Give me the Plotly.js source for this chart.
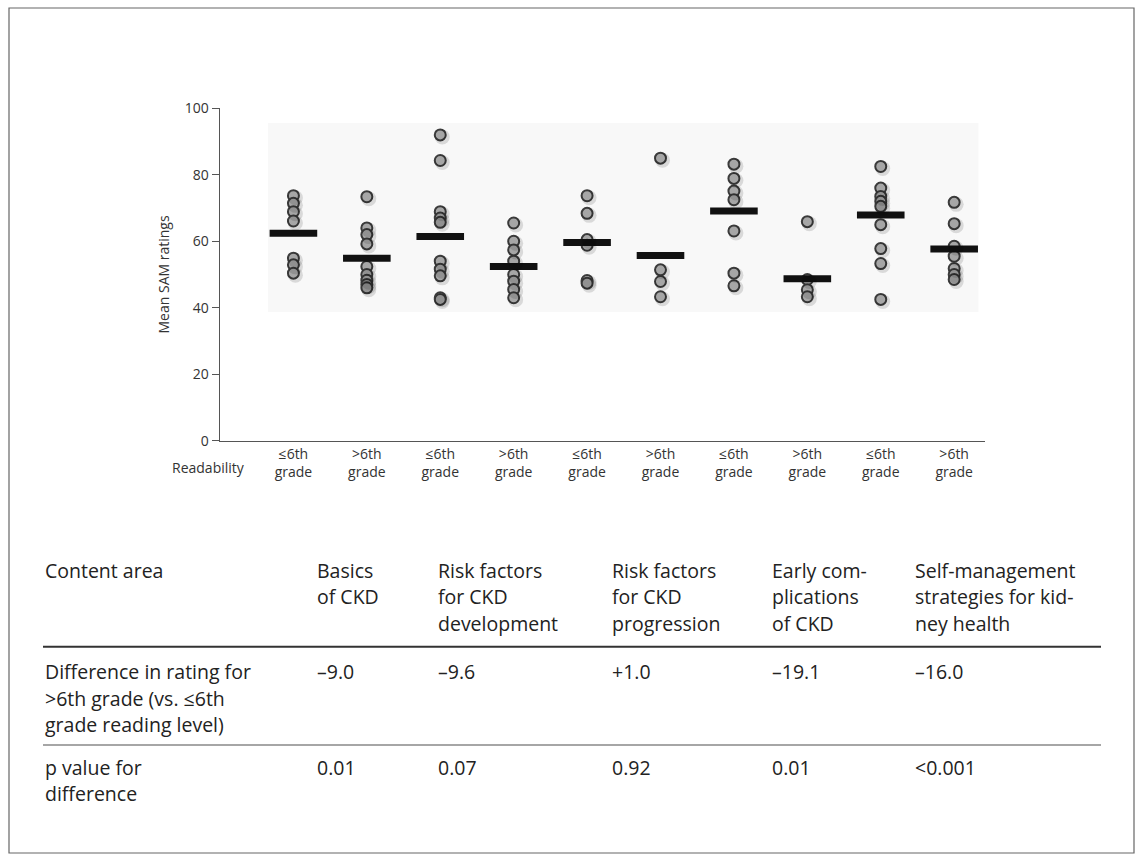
<!DOCTYPE html>
<html>
<head>
<meta charset="utf-8">
<script src="https://cdn.plot.ly/plotly-3.0.1.min.js"></script>
<style>
  html, body { margin: 0; padding: 0; background: #ffffff; }
  #chart { width: 1143px; height: 862px; }
</style>
</head>
<body>
<div id="chart"></div>
<script>
// ---------- DATA ----------
const groupLabels = ["≤6th<br>grade", ">6th<br>grade", "≤6th<br>grade", ">6th<br>grade", "≤6th<br>grade",
                     ">6th<br>grade", "≤6th<br>grade", ">6th<br>grade", "≤6th<br>grade", ">6th<br>grade"];

const g1 = [73.7, 71.4, 68.9, 66.1, 54.9, 52.9, 50.4];
const g2 = [73.4, 64.0, 62.0, 59.2, 52.4, 50.0, 48.3, 47.0, 46.0];
const g3 = [92.0, 84.3, 68.9, 67.0, 65.7, 54.0, 51.6, 49.6, 43.0, 42.5];
const g4 = [65.5, 60.0, 57.4, 54.0, 50.0, 48.0, 45.5, 43.0];
const g5 = [73.7, 68.4, 60.5, 58.8, 48.2, 47.4];
const g6 = [85.0, 51.4, 47.9, 43.3];
const g7 = [83.2, 78.9, 75.1, 72.5, 63.1, 50.4, 46.6];
const g8 = [65.9, 48.5, 45.4, 43.3];
const g9 = [82.5, 76.0, 73.5, 72.0, 70.5, 65.0, 57.8, 53.3, 42.5];
const g10 = [71.7, 65.3, 58.5, 55.5, 51.8, 50.0, 48.5];
const groups = [g1, g2, g3, g4, g5, g6, g7, g8, g9, g10];

const groupMeans = [62.4, 54.9, 61.4, 52.4, 59.6, 55.7, 69.1, 48.7, 67.9, 57.7];

const yTicks = [0, 20, 40, 60, 80, 100];

// table
const tableRowLabels = ["Content area",
                        "Difference in rating for<br>>6th grade (vs. ≤6th<br>grade reading level)",
                        "p value for<br>difference"];
const contentAreas = ["Basics<br>of CKD", "Risk factors<br>for CKD<br>development", "Risk factors<br>for CKD<br>progression",
                      "Early com-<br>plications<br>of CKD", "Self-management<br>strategies for kid-<br>ney health"];
const differences = ["–9.0", "–9.6", "+1.0", "–19.1", "–16.0"];
const pValues = ["0.01", "0.07", "0.92", "0.01", "<0.001"];

// ---------- BUILD ----------
const W = 1143, H = 862;
const px = x => x / W;
const py = y => 1 - y / H;

const xs = [], ys = [];
groups.forEach((g, i) => g.forEach(v => { xs.push(i); ys.push(v); }));
const meanX = groupMeans.map((_, i) => i);
const tickIdx = groupLabels.map((_, i) => i);

const FONT = "Open Sans, Noto Sans, sans-serif";

const traces = [
  { // soft drop shadow, same data on a slightly offset overlay axis
    type: "scatter", mode: "markers", x: xs, y: ys, xaxis: "x2", yaxis: "y2",
    marker: { size: 15, color: "rgba(0,0,0,0.12)", line: { width: 0 } },
    hoverinfo: "skip"
  },
  {
    type: "scatter", mode: "markers", x: xs, y: ys,
    marker: { size: 11, color: "#bdbdbd", line: { color: "#3c3c3c", width: 2 } },
    hoverinfo: "y"
  },
  {
    type: "scatter", mode: "markers", x: meanX, y: groupMeans,
    marker: { symbol: "line-ew", size: 34, line: { color: "#111111", width: 7 } },
    hoverinfo: "y"
  }
];

const xRange = [-1, 9.42];
const yDomain = [py(440.7), py(108.3)];
const xDomain = [px(220), px(985)];
const dx = 2 / 73.4, dy = 2 / 3.324;

const annotations = [];
// axis labels
annotations.push({ xref: "paper", yref: "paper", x: px(163), y: (yDomain[0] + yDomain[1]) / 2,
  text: "Mean SAM ratings", textangle: -90, showarrow: false,
  font: { family: FONT, size: 14, color: "#333" }, xanchor: "center", yanchor: "middle" });
annotations.push({ xref: "paper", yref: "paper", x: px(247), y: py(467),
  text: "Readability", showarrow: false,
  font: { family: FONT, size: 14, color: "#333" }, xanchor: "right", yanchor: "middle" });

// table text
const TF = { family: FONT, size: 19.5, color: "#222" };
const colX = [43, 315, 436, 610, 770, 913];
const rowTops = [570, 671.5, 767];
const lineGap = 26.5;
function cell(text, col, row) {
  text.split("<br>").forEach((ln, k) => {
    annotations.push({ xref: "paper", yref: "paper", x: px(colX[col]), y: py(rowTops[row] + k * lineGap),
      text: ln, showarrow: false, font: TF, xanchor: "left", yanchor: "middle" });
  });
}
tableRowLabels.forEach((t, r) => cell(t, 0, r));
contentAreas.forEach((t, c) => cell(t, c + 1, 0));
differences.forEach((t, c) => cell(t, c + 1, 1));
pValues.forEach((t, c) => cell(t, c + 1, 2));

const shapes = [
  { type: "rect", layer: "below", xref: "x", yref: "y", x0: -0.345, x1: 9.33, y0: 38.7, y1: 95.6,
    fillcolor: "#f8f8f8", line: { width: 0 } },
  { type: "line", xref: "paper", yref: "paper", x0: px(43), x1: px(1101), y0: py(646.7), y1: py(646.7),
    line: { color: "#333", width: 2 } },
  { type: "line", xref: "paper", yref: "paper", x0: px(43), x1: px(1101), y0: py(745), y1: py(745),
    line: { color: "#888", width: 1.5 } },
  { type: "rect", xref: "paper", yref: "paper", x0: px(9), x1: px(1134), y0: py(853), y1: py(8),
    line: { color: "#666", width: 1.2 }, fillcolor: "rgba(0,0,0,0)" }
];

const layout = {
  width: W, height: H,
  margin: { l: 0, r: 0, t: 0, b: 0 },
  paper_bgcolor: "#ffffff", plot_bgcolor: "rgba(0,0,0,0)",
  showlegend: false,
  font: { family: FONT, color: "#333" },
  xaxis: {
    domain: xDomain, range: xRange, tickmode: "array", tickvals: tickIdx, ticktext: groupLabels,
    showline: true, linecolor: "#555", linewidth: 1.5, ticks: "", showgrid: false, zeroline: false,
    tickfont: { family: FONT, size: 14, color: "#333" }, fixedrange: true
  },
  yaxis: {
    domain: yDomain, range: [0, 100], tickmode: "array", tickvals: yTicks,
    showline: true, linecolor: "#555", linewidth: 1.5, ticks: "outside", ticklen: 7, tickcolor: "#555",
    tickwidth: 1.2, showgrid: false, zeroline: false,
    tickfont: { family: FONT, size: 14, color: "#333" }, fixedrange: true
  },
  xaxis2: { overlaying: "x", domain: xDomain, range: [xRange[0] - dx, xRange[1] - dx], visible: false, fixedrange: true },
  yaxis2: { overlaying: "y", anchor: "x2", domain: yDomain, range: [0 + dy, 100 + dy], visible: false, fixedrange: true },
  annotations: annotations,
  shapes: shapes
};

Plotly.newPlot("chart", traces, layout, { displayModeBar: false, staticPlot: true });
</script>
</body>
</html>
